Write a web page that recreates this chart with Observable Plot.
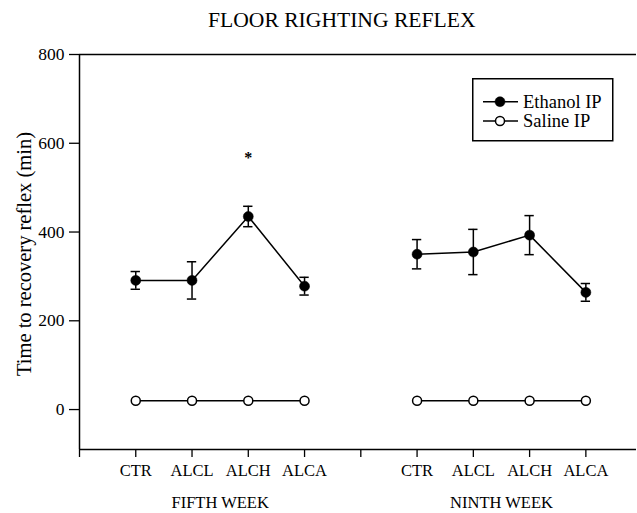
<!DOCTYPE html>
<html>
<head>
<meta charset="utf-8">
<script src="https://cdn.jsdelivr.net/npm/d3@7"></script>
<script src="https://cdn.jsdelivr.net/npm/@observablehq/plot@0.6"></script>
<style>
  html, body { margin: 0; padding: 0; background: white; }
  #wrap { position: relative; width: 637px; height: 513px; font-family: "Liberation Serif", "Times New Roman", serif; color: black; }
  #title { height: 35px; line-height: 40px; font-size: 21.6px; text-align: left; padding-left: 208px; box-sizing: border-box; white-space: nowrap; }
  #legend { position: absolute; left: 472px; top: 78px; }
  #chart svg, #chart svg text { font-family: "Liberation Serif", "Times New Roman", serif; }
  #chart g[aria-label="y-axis tick label"] { font-size: 17.5px; }
  #chart g[aria-label="x-axis tick label"] { font-size: 16.5px; }
</style>
</head>
<body>
<div id="wrap">
  <div id="title">FLOOR RIGHTING REFLEX</div>
  <div id="chart"></div>
  <svg id="legend" width="142" height="64"></svg>
</div>
<script>
// ---- data ----
const groups = ["CTR", "ALCL", "ALCH", "ALCA"];
const weeks = ["FIFTH WEEK", "NINTH WEEK"];
const ethanolFifth = [291, 291, 435, 278];
const ethanolFifthErr = [20, 42, 23, 20];
const ethanolNinth = [350, 355, 393, 264];
const ethanolNinthErr = [33, 51, 44, 20];
const salineFifth = [20, 20, 20, 20];
const salineNinth = [20, 20, 20, 20];
const yTicks = [0, 200, 400, 600, 800];
const yLabel = "Time to recovery reflex (min)";
const seriesNames = ["Ethanol IP", "Saline IP"];
const significance = [{ week: 0, group: "ALCH", label: "*", y: 568 }];

// ---- table built from the arrays ----
const ethanol = [ethanolFifth, ethanolNinth];
const ethanolErr = [ethanolFifthErr, ethanolNinthErr];
const saline = [salineFifth, salineNinth];
const rows = [];
weeks.forEach((w, wi) => {
  groups.forEach((g, gi) => {
    rows.push({
      week: w, group: g, pos: wi * 5 + gi + 1,
      ethanol: ethanol[wi][gi], err: ethanolErr[wi][gi], saline: saline[wi][gi]
    });
  });
});
const tickPositions = d3.range(0, 10);
const tickLabel = i => (i % 5 === 0 ? "" : groups[i % 5 - 1]);
const weekCenters = weeks.map((w, wi) => ({ week: w, pos: wi * 5 + 2.5 }));
const sigRows = significance.map(s => ({ ...s, pos: s.week * 5 + groups.indexOf(s.group) + 1 }));
const capHalf = 0.083;

const chart = Plot.plot({
  width: 637,
  height: 478,
  marginTop: 19,
  marginLeft: 79,
  marginRight: 1,
  marginBottom: 64,
  style: { fontFamily: "'Liberation Serif', 'Times New Roman', serif", fontSize: "17px", color: "black", background: "white", overflow: "visible" },
  x: { type: "linear", domain: [0, 9.9] },
  y: { domain: [-90, 800] },
  marks: [
    Plot.axisY({ ticks: yTicks, tickSize: 10, tickPadding: 5, label: null, strokeWidth: 1.3 }),
    Plot.axisX({ ticks: tickPositions, tickFormat: tickLabel, tickSize: 8, tickPadding: 7, label: null, strokeWidth: 1.3 }),
    Plot.ruleX([0], { stroke: "black", strokeWidth: 1.5 }),
    Plot.ruleY([-90, 800], { stroke: "black", strokeWidth: 1.5 }),
    // y label
    Plot.text([yLabel], { frameAnchor: "left", dx: -55, dy: 2, rotate: -90, text: d => d, fontSize: 20.5, textAnchor: "middle", lineAnchor: "middle" }),
    // week labels
    Plot.text(weekCenters, { x: "pos", frameAnchor: "bottom", dy: 53, text: "week", fontSize: 16.5, lineAnchor: "middle" }),
    // error bars
    Plot.ruleX(rows, { x: "pos", y1: d => d.ethanol - d.err, y2: d => d.ethanol + d.err, stroke: "black", strokeWidth: 1.5 }),
    Plot.ruleY(rows, { y: d => d.ethanol + d.err, x1: d => d.pos - capHalf, x2: d => d.pos + capHalf, stroke: "black", strokeWidth: 1.5 }),
    Plot.ruleY(rows, { y: d => d.ethanol - d.err, x1: d => d.pos - capHalf, x2: d => d.pos + capHalf, stroke: "black", strokeWidth: 1.5 }),
    // lines
    Plot.line(rows, { x: "pos", y: "ethanol", z: "week", stroke: "black", strokeWidth: 1.5 }),
    Plot.line(rows, { x: "pos", y: "saline", z: "week", stroke: "black", strokeWidth: 1.5 }),
    // dots
    Plot.dot(rows, { x: "pos", y: "ethanol", r: 5, fill: "black", stroke: "black", strokeWidth: 0.5 }),
    Plot.dot(rows, { x: "pos", y: "saline", r: 4.5, fill: "white", stroke: "black", strokeWidth: 1.5 }),
    // significance
    Plot.text(sigRows, { x: "pos", y: "y", text: "label", fontSize: 16, fontWeight: "bold", lineAnchor: "middle" })
  ]
});
document.getElementById("chart").appendChild(chart);

// ---- legend ----
const lg = d3.select("#legend");
lg.append("rect").attr("x", 0.75).attr("y", 0.75).attr("width", 140).attr("height", 62)
  .attr("fill", "white").attr("stroke", "black").attr("stroke-width", 1.5);
seriesNames.forEach((name, i) => {
  const cy = 23.7 + i * 19.3;
  lg.append("line").attr("x1", 11).attr("x2", 46).attr("y1", cy).attr("y2", cy)
    .attr("stroke", "black").attr("stroke-width", 1.5);
  lg.append("circle").attr("cx", 28).attr("cy", cy).attr("r", i === 0 ? 5 : 4.5)
    .attr("fill", i === 0 ? "black" : "white").attr("stroke", "black").attr("stroke-width", i === 0 ? 0.5 : 1.5);
  lg.append("text").attr("x", 51).attr("y", cy).attr("dy", "0.35em")
    .attr("font-family", "'Liberation Serif', 'Times New Roman', serif").attr("font-size", 18.5)
    .attr("fill", "black").text(name);
});
</script>
</body>
</html>
